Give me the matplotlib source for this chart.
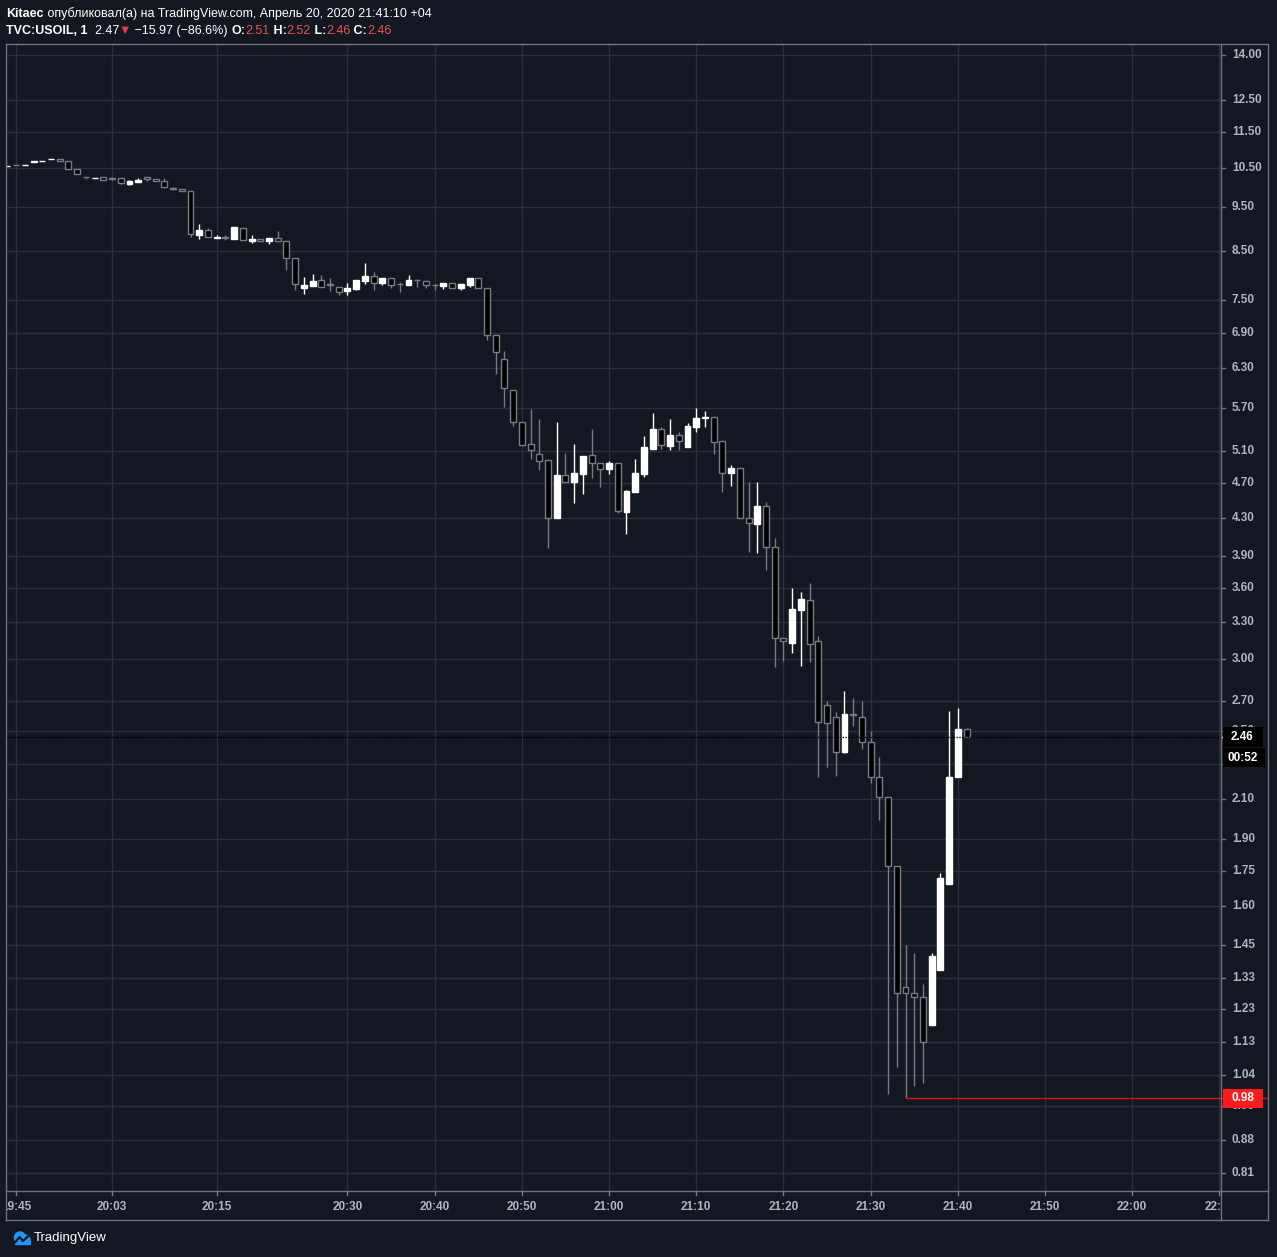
import numpy as np
import matplotlib
matplotlib.use("Agg")
from matplotlib import pyplot as plt
from matplotlib.lines import Line2D
from matplotlib.patches import Circle, Polygon, Rectangle
from matplotlib.transforms import blended_transform_factory

# 1-minute bars, index 0 = 20:03
bar_idx = list(range(-12, 99))
opens = [10.55, 10.58, 10.57, 10.67, 10.68, 10.73, 10.74, 10.68, 10.47, 10.27, 10.23, 10.26,
         10.24, 10.23, 10.08, 10.13, 10.26, 10.20, 10.15, 9.97, 9.95, 9.90, 8.85, 8.96,
         8.79, 8.81, 8.76, 9.01, 8.72, 8.76, 8.72, 8.78, 8.72, 8.35, 7.74, 7.78,
         7.90, 7.81, 7.76, 7.68, 7.72, 7.88, 7.98, 7.84, 7.94, 7.82, 7.80, 7.90,
         7.88, 7.80, 7.78, 7.84, 7.74, 7.80, 7.94, 7.74, 6.86, 6.45, 5.96, 5.50,
         5.19, 5.06, 4.99, 4.30, 4.80, 4.72, 4.81, 5.05, 4.95, 4.87, 4.95, 4.37,
         4.60, 4.81, 5.13, 5.40, 5.17, 5.31, 5.16, 5.42, 5.55, 5.56, 5.24, 4.82,
         4.89, 4.30, 4.24, 4.44, 3.99, 3.17, 3.13, 3.40, 3.49, 3.14, 2.67, 2.59,
         2.37, 2.61, 2.59, 2.43, 2.22, 2.11, 1.77, 1.30, 1.28, 1.27, 1.18, 1.36,
         1.69, 2.22, 2.51]
highs = [10.56, 10.58, 10.58, 10.68, 10.69, 10.74, 10.74, 10.68, 10.47, 10.27, 10.24, 10.26,
         10.25, 10.23, 10.18, 10.23, 10.26, 10.20, 10.23, 10.00, 9.95, 9.90, 9.10, 9.01,
         8.85, 8.85, 9.03, 9.01, 8.85, 8.76, 8.78, 8.94, 8.72, 8.35, 7.96, 8.02,
         8.00, 7.94, 7.76, 7.84, 7.90, 8.24, 8.05, 7.94, 7.94, 7.86, 8.00, 7.92,
         7.88, 7.82, 7.84, 7.84, 7.82, 7.94, 7.94, 7.74, 6.86, 6.58, 5.96, 5.50,
         5.68, 5.53, 4.99, 5.49, 5.08, 5.19, 5.04, 5.40, 4.95, 4.97, 4.95, 4.62,
         5.00, 5.30, 5.62, 5.42, 5.53, 5.35, 5.48, 5.70, 5.65, 5.56, 5.24, 4.92,
         4.89, 4.72, 4.72, 4.48, 4.09, 3.17, 3.60, 3.56, 3.64, 3.18, 2.70, 2.62,
         2.77, 2.72, 2.70, 2.50, 2.34, 2.11, 1.77, 1.45, 1.42, 1.31, 1.42, 1.74,
         2.63, 2.65, 2.52]
lows = [10.55, 10.57, 10.57, 10.67, 10.68, 10.73, 10.68, 10.47, 10.34, 10.20, 10.23, 10.18,
        10.18, 10.08, 10.05, 10.13, 10.15, 10.15, 9.97, 9.92, 9.90, 8.80, 8.76, 8.80,
        8.78, 8.74, 8.76, 8.74, 8.67, 8.72, 8.65, 8.72, 8.09, 7.70, 7.62, 7.78,
        7.76, 7.68, 7.60, 7.60, 7.70, 7.82, 7.70, 7.80, 7.74, 7.66, 7.80, 7.76,
        7.74, 7.70, 7.72, 7.74, 7.70, 7.76, 7.74, 6.77, 6.21, 5.71, 5.44, 5.18,
        5.00, 4.86, 3.98, 4.30, 4.72, 4.47, 4.57, 4.76, 4.65, 4.81, 4.36, 4.13,
        4.60, 4.77, 5.13, 5.13, 5.12, 5.12, 5.16, 5.36, 5.42, 5.06, 4.60, 4.67,
        4.30, 3.94, 3.93, 3.77, 2.94, 2.99, 3.05, 2.95, 2.98, 2.22, 2.28, 2.23,
        2.36, 2.53, 2.39, 2.19, 1.99, 0.99, 1.06, 0.98, 1.01, 1.02, 1.18, 1.36,
        1.69, 2.22, 2.46]
closes = [10.56, 10.57, 10.58, 10.68, 10.69, 10.74, 10.68, 10.47, 10.34, 10.25, 10.24, 10.18,
          10.22, 10.10, 10.15, 10.18, 10.20, 10.15, 10.00, 9.96, 9.90, 8.87, 8.96, 8.80,
          8.81, 8.79, 9.03, 8.74, 8.76, 8.72, 8.78, 8.72, 8.35, 7.82, 7.80, 7.88,
          7.76, 7.80, 7.66, 7.74, 7.90, 7.98, 7.84, 7.94, 7.80, 7.81, 7.90, 7.89,
          7.80, 7.79, 7.84, 7.74, 7.82, 7.94, 7.74, 6.86, 6.56, 5.99, 5.49, 5.18,
          5.11, 4.97, 4.30, 4.80, 4.72, 4.82, 5.04, 4.95, 4.87, 4.95, 4.38, 4.61,
          4.82, 5.15, 5.40, 5.18, 5.31, 5.23, 5.44, 5.55, 5.56, 5.22, 4.82, 4.89,
          4.30, 4.25, 4.44, 3.99, 3.17, 3.14, 3.41, 3.50, 3.12, 2.56, 2.55, 2.37,
          2.61, 2.60, 2.43, 2.22, 2.11, 1.77, 1.28, 1.28, 1.27, 1.13, 1.41, 1.72,
          2.22, 2.51, 2.46]

price_ticks = [14.00, 12.50, 11.50, 10.50, 9.50, 8.50, 7.50, 6.90, 6.30, 5.70, 5.10, 4.70,
               4.30, 3.90, 3.60, 3.30, 3.00, 2.70, 2.50, 2.30, 2.10, 1.90, 1.75, 1.60,
               1.45, 1.33, 1.23, 1.13, 1.04, 0.96, 0.88, 0.81]
hidden_ticks = [2.30]  # label covered by the countdown box
time_idx = [-11, 0, 12, 27, 37, 47, 57, 67, 77, 87, 97, 107, 117, 127]
time_labels = ["19:45", "20:03", "20:15", "20:30", "20:40", "20:50", "21:00", "21:10",
               "21:20", "21:30", "21:40", "21:50", "22:00", "22:10"]
last_price = 2.46
countdown = "00:52"
low_price = 0.98
low_idx = 91

BG = "#131722"
GRID = "#2b2f3b"
BORDER = "#6f727c"
TXT = "#b2b5be"
GRAY = "#787b86"
FAM = ["Liberation Sans", "DejaVu Sans"]

W, H = 1277, 1257
fig = plt.figure(figsize=(W / 100, H / 100), dpi=100, facecolor=BG)


def box(x0, y0, x1, y1):
    return [x0 / W, 1 - y1 / H, (x1 - x0) / W, (y1 - y0) / H]


ax = fig.add_axes(box(6, 44, 1221, 1191))
ax.set_facecolor(BG)
ax.set_yscale("log")
ax.set_xlim(-12.16, 127.18)
ax.set_ylim(0.7736, 14.40)
for s in ax.spines.values():
    s.set_visible(False)
ax.set_xticks([])
ax.set_yticks([])
ax.minorticks_off()

# grid
for p in price_ticks:
    ax.axhline(p, color=GRID, lw=1, zorder=0)
for i in time_idx:
    ax.axvline(i, color=GRID, lw=1, zorder=0)

# candles
x = np.array(bar_idx)
o, h, l, c = map(np.array, (opens, highs, lows, closes))
up = c >= o
wick_col = np.where(up, "white", GRAY)
ax.vlines(x, l, h, colors=wick_col, lw=1, zorder=2)
bottom = np.minimum(o, c)
height = np.maximum(np.abs(c - o), 1e-4)
ax.bar(x[up], height[up], bottom=bottom[up], width=0.68, color="white",
       edgecolor="white", lw=1, zorder=3)
ax.bar(x[~up], height[~up], bottom=bottom[~up], width=0.68, color="black",
       edgecolor=GRAY, lw=1, zorder=3)

# last price dotted line and session low line
ax.axhline(last_price, color="black", lw=1, ls=(0, (1, 1)), zorder=4)
ax.hlines(low_price, low_idx, 200, color="#e01010", lw=1, zorder=4)

# price axis panel
pax = fig.add_axes(box(1221, 44, 1268, 1191), sharey=ax)
pax.set_facecolor(BG)
pax.set_xlim(0, 1)
for s in pax.spines.values():
    s.set_visible(False)
pax.tick_params(left=False, right=False, labelleft=False, bottom=False, labelbottom=False)
pax.minorticks_off()
ptr = blended_transform_factory(pax.transAxes, pax.transData)
for p in price_ticks:
    pax.plot([0, 0.09], [p, p], color=GRAY, lw=1, transform=ptr)
    if p in hidden_ticks:
        continue
    pax.text(0.23, p, f"{p:.2f}", transform=ptr, color=TXT, fontsize=8.5,
             fontweight="bold", family=FAM, va="center", ha="left")
pax.plot([0, 1], [low_price, low_price], color="#e01010", lw=1, transform=ptr)


def tag(price, label, fc, dy=0, tx=1231, x0=1223, x1=1263, hgt=20):
    yp = ax.transData.transform((0, price))[1] - dy
    fig.add_artist(Rectangle((x0 / W, (yp - hgt / 2) / H), (x1 - x0) / W, hgt / H,
                             transform=fig.transFigure, fc=fc, ec="none", zorder=10))
    fig.text(tx / W, yp / H, label, color="white", fontsize=8.5, fontweight="bold",
             family=FAM, va="center", ha="left", zorder=11)


tag(last_price, f"{last_price:.2f}", "black")
pax.plot([0, 0.09], [last_price, last_price], color="white", lw=1, transform=ptr, zorder=12)
tag(last_price, countdown, "black", dy=20.5, tx=1228, x1=1265, hgt=19)
tag(low_price, f"{low_price:.2f}", "#ff1a1a", hgt=19)

# time axis panel
tax = fig.add_axes(box(6, 1191, 1221, 1220), sharex=ax)
tax.set_facecolor(BG)
tax.set_ylim(0, 1)
for s in tax.spines.values():
    s.set_visible(False)
tax.tick_params(left=False, labelleft=False, bottom=False, labelbottom=False)
for i, lab in zip(time_idx, time_labels):
    tax.plot([i, i], [1, 0.86], color=GRAY, lw=1)
    tax.text(i, 0.44, lab, color=TXT, fontsize=8.5, fontweight="bold", family=FAM,
             ha="center", va="center", clip_on=True)

# frame
for (x0, y0, x1, y1) in [(6, 44, 1268, 44), (6, 1220, 1268, 1220), (6, 44, 6, 1220),
                         (1268, 44, 1268, 1220), (1221, 44, 1221, 1220), (6, 1191, 1268, 1191)]:
    fig.add_artist(Line2D([x0 / W, x1 / W], [1 - y0 / H, 1 - y1 / H], color=BORDER, lw=1,
                          transform=fig.transFigure))

# header
r = fig.canvas.get_renderer()


def chain(parts, px, py, fs=9.0):
    for s, col, wt in parts:
        t = fig.text(px / W, 1 - py / H, s, color=col, fontweight=wt, fontsize=fs,
                     family=FAM, va="baseline", ha="left")
        px += t.get_window_extent(r).width


RED = "#ef5350"
chain([("Kitaec", "white", "bold"),
       (" опубликовал(а) на TradingView.com, Апрель 20, 2020 21:41:10 +04", "white", "normal")],
      6, 17)
chain([("TVC:USOIL, 1", "white", "bold"), ("  2.47", "white", "normal"), ("▼", "#f23645", "normal"),
       (" −15.97 (−86.6%) ", "white", "normal"), ("O:", "white", "bold"), ("2.51", RED, "normal"),
       (" H:", "white", "bold"), ("2.52", RED, "normal"), (" L:", "white", "bold"),
       ("2.46", RED, "normal"), (" C:", "white", "bold"), ("2.46", RED, "normal")], 6, 34)

# TradingView logo
lax = fig.add_axes(box(13, 1230, 31, 1247))
lax.set_xlim(0, 18)
lax.set_ylim(0, 17)
lax.axis("off")
blue = "#2196f3"
lax.add_patch(Circle((7, 9.5), 5.5, color=blue))
lax.add_patch(Circle((12.5, 7.5), 4.5, color=blue))
lax.add_patch(Polygon([[1.5, 3], [17, 3], [17, 7], [1.5, 7]], color=blue))
lax.plot([2.5, 6.5, 10, 15.5], [5, 10, 6, 11], color="#131722", lw=1.6)
fig.text(34 / W, 1 - 1238 / H, "TradingView", color="white", fontsize=9.5, family=FAM,
         va="center", ha="left")

fig.savefig("out.png", dpi=100, facecolor=BG)
